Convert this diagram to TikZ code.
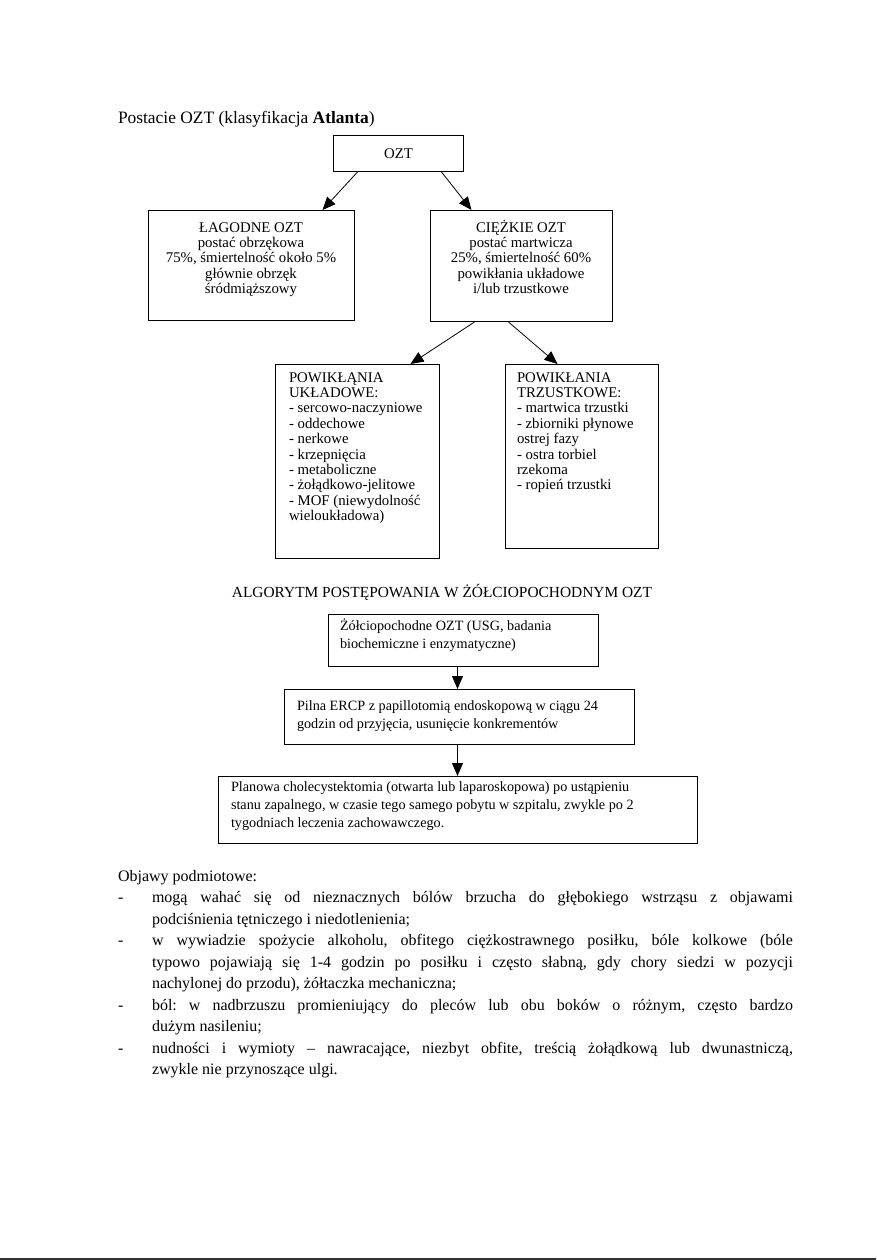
\documentclass[tikz,border=0pt]{standalone}
\usepackage{fontspec}
\setmainfont{Liberation Serif}
\usetikzlibrary{arrows.meta}
\newcommand{\fsa}{\fontsize{14.8pt}{15.4pt}\selectfont}
\newcommand{\fsb}{\fontsize{14.2pt}{18pt}\selectfont}
\newcommand{\fbody}{\fontsize{16pt}{21.5pt}\selectfont}
\frenchspacing
\begin{document}
\begin{tikzpicture}[x=1pt,y=-1pt,
  box/.style={draw=black, line width=1pt, inner sep=0pt, anchor=north west},
  arr/.style={draw=black, line width=0.8pt, -{Triangle[length=13pt,width=11pt]}},
  lbl/.style={inner sep=0pt, outer sep=0pt},
]
\useasboundingbox[fill=white] (0,0) rectangle (876,1260);

% heading
\node[lbl, anchor=base west, font=\fontsize{17.4pt}{20pt}\selectfont] (head) at (118,124)
  {Postacie OZT (klasyfikacja \textbf{Atlanta})};

% OZT tree
\node[box, minimum width=130pt, minimum height=36pt, font=\fsa] (ozt) at (333,135) {OZT};
\node[box, minimum width=206pt, minimum height=110pt] (lag) at (148,210) {};
\node[box, minimum width=182pt, minimum height=111pt] (cie) at (430,210) {};
\node[lbl, anchor=base, font=\fsa] (lagt) at (251,232)
  {\parbox[t]{204pt}{\centering ŁAGODNE OZT\\postać obrzękowa\\75\%, śmiertelność około 5\%\\głównie obrzęk\\śródmiąższowy}};
\node[lbl, anchor=base, font=\fsa] (ciet) at (521,232)
  {\parbox[t]{180pt}{\centering CIĘŻKIE OZT\\postać martwicza\\25\%, śmiertelność 60\%\\powikłania układowe\\i/lub trzustkowe}};

\draw[arr] ([xshift=-41pt]ozt.south) -- ([xshift=71pt]lag.north);
\draw[arr] ([xshift=43pt]ozt.south) -- ([xshift=-50pt]cie.north);

% complications
\node[box, minimum width=164pt, minimum height=194pt] (uk) at (275,364) {};
\node[box, minimum width=153pt, minimum height=184pt] (tr) at (505,364) {};
\node[lbl, anchor=base west, font=\fsa] (ukt) at (289,382)
  {\parbox[t]{150pt}{\raggedright POWIKŁĄNIA\\UKŁADOWE:\\- sercowo-naczyniowe\\- oddechowe\\- nerkowe\\- krzepnięcia\\- metaboliczne\\- żołądkowo-jelitowe\\- MOF (niewydolność\\wieloukładowa)}};
\node[lbl, anchor=base west, font=\fsa] (trt) at (517,382)
  {\parbox[t]{140pt}{\raggedright POWIKŁANIA\\TRZUSTKOWE:\\- martwica trzustki\\- zbiorniki płynowe\\ostrej fazy\\- ostra torbiel\\rzekoma\\- ropień trzustki}};

\draw[arr] ([xshift=-47pt]cie.south) -- ([xshift=53pt]uk.north);
\draw[arr] ([xshift=-13pt]cie.south) -- ([xshift=-24.5pt]tr.north);

% algorithm
\node[lbl, anchor=base, font=\fontsize{15.4pt}{18pt}\selectfont] (alg) at (442,597)
  {ALGORYTM POSTĘPOWANIA W ŻÓŁCIOPOCHODNYM OZT};
\node[box, minimum width=270pt, minimum height=52pt] (a1) at (328,614) {};
\node[box, minimum width=350pt, minimum height=55pt] (a2) at (284,689) {};
\node[box, minimum width=479pt, minimum height=67pt] (a3) at (218,776) {};
\node[lbl, anchor=base west, font=\fsb] (a1t) at (340,630)
  {\parbox[t]{255pt}{\raggedright Żółciopochodne OZT (USG, badania\\biochemiczne i enzymatyczne)}};
\node[lbl, anchor=base west, font=\fsb] (a2t) at (297,710)
  {\parbox[t]{335pt}{\raggedright Pilna ERCP z papillotomią endoskopową w ciągu 24\\godzin od przyjęcia, usunięcie konkrementów}};
\node[lbl, anchor=base west, font=\fsb] (a3t) at (231,791)
  {\parbox[t]{465pt}{\raggedright Planowa cholecystektomia (otwarta lub laparoskopowa) po ustąpieniu\\stanu zapalnego, w czasie tego samego pobytu w szpitalu, zwykle po 2\\tygodniach leczenia zachowawczego.}};
\draw[arr] ([xshift=-6pt]a1.south) -- ([xshift=-2pt]a2.north);
\draw[arr] ([xshift=-2pt]a2.south) -- ([xshift=-0.5pt]a3.north);

% body text
\node[lbl, anchor=base west, font=\fbody] (obj) at (118,881) {Objawy podmiotowe:};
\node[lbl, anchor=base west, font=\fbody] (d1) at (118,902.5) {-};
\node[lbl, anchor=base west, font=\fbody] (d2) at (118,945.5) {-};
\node[lbl, anchor=base west, font=\fbody] (d3) at (118,1010) {-};
\node[lbl, anchor=base west, font=\fbody] (d4) at (118,1053) {-};
\node[lbl, anchor=base west, font=\fbody] (i1) at (152,902.5)
  {\parbox[t]{641pt}{\tolerance=10000\hyphenpenalty=10000 mogą wahać się od nieznacznych bólów brzucha do głębokiego wstrząsu z objawami\linebreak podciśnienia tętniczego i niedotlenienia;}};
\node[lbl, anchor=base west, font=\fbody] (i2) at (152,945.5)
  {\parbox[t]{641pt}{\tolerance=10000\hyphenpenalty=10000 w wywiadzie spożycie alkoholu, obfitego ciężkostrawnego posiłku, bóle kolkowe (bóle\linebreak typowo pojawiają się 1-4 godzin po posiłku i często słabną, gdy chory siedzi w pozycji\linebreak nachylonej do przodu), żółtaczka mechaniczna;}};
\node[lbl, anchor=base west, font=\fbody] (i3) at (152,1010)
  {\parbox[t]{641pt}{\tolerance=10000\hyphenpenalty=10000 ból: w nadbrzuszu promieniujący do pleców lub obu boków o różnym, często bardzo\linebreak dużym nasileniu;}};
\node[lbl, anchor=base west, font=\fbody] (i4) at (152,1053)
  {\parbox[t]{641pt}{\tolerance=10000\hyphenpenalty=10000 nudności i wymioty – nawracające, niezbyt obfite, treścią żołądkową lub dwunastniczą,\linebreak zwykle nie przynoszące ulgi.}};

% scan edge line
\draw[line width=1.5pt, black!80] (0,1259) -- (876,1259);
\end{tikzpicture}
\end{document}
